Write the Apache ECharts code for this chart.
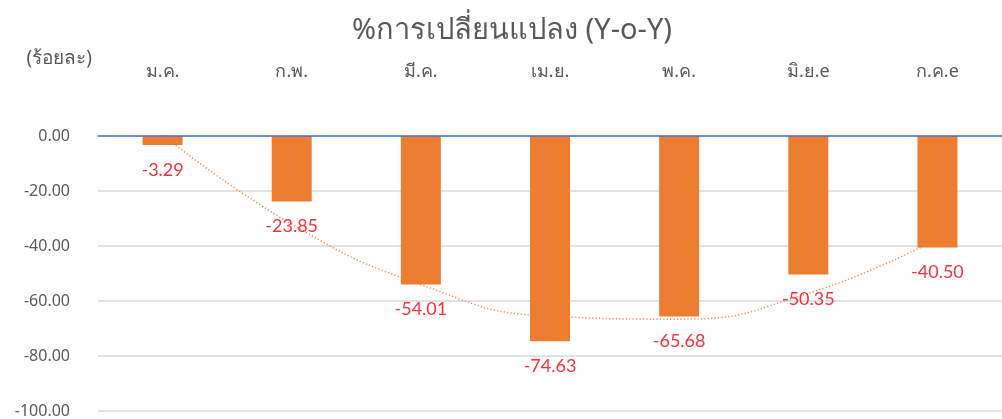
<!DOCTYPE html>
<html>
<head>
<meta charset="utf-8">
<script src="https://cdn.jsdelivr.net/npm/echarts@6/dist/echarts.min.js"></script>
<style>
  html, body { margin: 0; padding: 0; background: #fff; }
  #chart { width: 1002px; height: 419px; }
</style>
</head>
<body>
<div id="chart"></div>
<script>
// เดือน (แกน x)
const months = ["ม.ค.", "ก.พ.", "มี.ค.", "เม.ย.", "พ.ค.", "มิ.ย.e", "ก.ค.e"];
// %การเปลี่ยนแปลง (Y-o-Y)
const yoyValues = [-3.29, -23.85, -54.01, -74.63, -65.68, -50.35, -40.50];
// เส้นแนวโน้ม (อ่านค่าจากภาพ)
const trendValues = [0.4, -32.0, -54.0, -65.5, -66.6, -57.2, -37.4];
// ค่าบนแกน y
const yTicks = [0, -20, -40, -60, -80, -100];

const FONT = "'Noto Sans', 'Open Sans', sans-serif";
const NUM_FONT = "Lato, 'Noto Sans', sans-serif";
const GREY = "#595959";

const chart = echarts.init(document.getElementById("chart"));

const option = {
  animation: false,
  backgroundColor: "#fff",
  title: {
    text: "%การเปลี่ยนแปลง (Y-o-Y)",
    left: 507,
    textAlign: "center",
    top: 11,
    textStyle: {
      fontFamily: FONT,
      fontSize: 29,
      fontWeight: "normal",
      color: GREY,
    },
  },
  grid: {
    left: 98,
    right: -12,
    top: 136,
    bottom: 8,
  },
  xAxis: {
    type: "category",
    position: "top",
    data: months,
    axisLine: {
      onZero: false,
      lineStyle: { color: "#4472C4", width: 1.5 },
    },
    axisTick: { show: false },
    axisLabel: {
      margin: 55,
      fontFamily: FONT,
      fontSize: 18,
      color: GREY,
    },
    z: 5,
  },
  yAxis: {
    type: "value",
    min: yTicks[yTicks.length - 1],
    max: yTicks[0],
    interval: 20,
    name: "(ร้อยละ)",
    nameLocation: "end",
    nameGap: 68,
    nameTextStyle: {
      fontFamily: FONT,
      fontSize: 19,
      color: GREY,
      align: "right",
      padding: [0, 6, 0, 0],
    },
    axisLine: { show: false },
    axisTick: { show: false },
    axisLabel: {
      margin: 28,
      fontFamily: FONT,
      fontSize: 16,
      color: GREY,
      formatter: (v) => v.toFixed(2),
    },
    splitLine: {
      lineStyle: { color: "#d9d9d9", width: 1.5 },
    },
  },
  series: [
    {
      name: "trend",
      type: "line",
      data: trendValues,
      smooth: 0.5,
      symbol: "none",
      lineStyle: {
        color: "#F08A46",
        width: 1.5,
        type: [1.2, 2.2],
      },
      z: 1,
      silent: true,
    },
    {
      name: "yoy",
      type: "bar",
      data: yoyValues,
      barWidth: 40,
      itemStyle: { color: "#ED7D31" },
      label: {
        show: true,
        position: "bottom",
        distance: 16,
        fontFamily: NUM_FONT,
        fontSize: 18,
        color: "#F5303E",
        formatter: (p) => p.value.toFixed(2),
      },
      z: 3,
    },
  ],
};

chart.setOption(option);
</script>
</body>
</html>
